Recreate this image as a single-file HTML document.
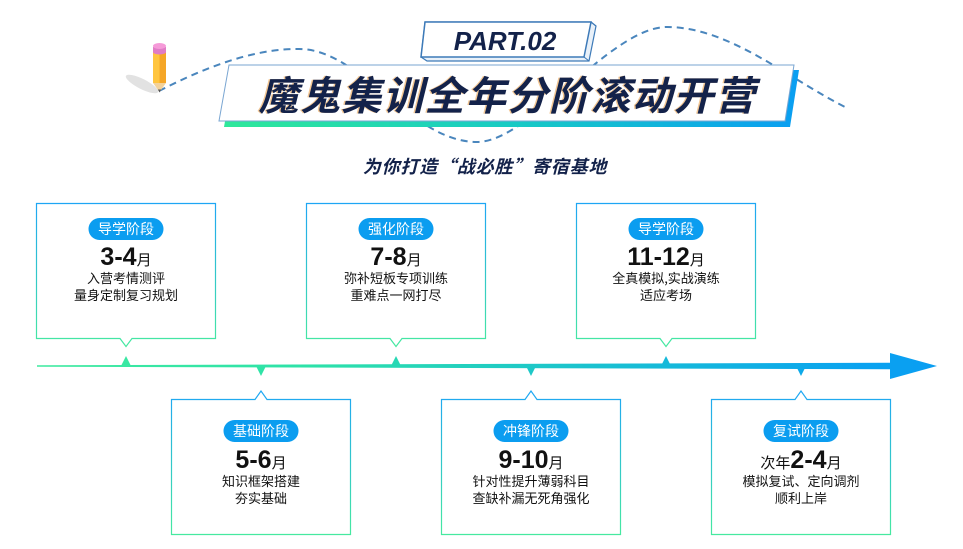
<!DOCTYPE html>
<html>
<head>
<meta charset="utf-8">
<style>
  html,body{margin:0;padding:0;background:#fff;}
  body{width:963px;height:549px;overflow:hidden;}
  svg{display:block;}
  .cjk{font-family:"Noto Sans CJK SC","WenQuanYi Zen Hei",sans-serif;}
</style>
</head>
<body>
<svg width="963" height="549" viewBox="0 0 963 549" xmlns="http://www.w3.org/2000/svg">
  <defs>
    <linearGradient id="boxg" x1="0" y1="0" x2="0" y2="1">
      <stop offset="0" stop-color="#1ea6f4"/>
      <stop offset="1" stop-color="#46e9a0"/>
    </linearGradient>
    <linearGradient id="lineg" gradientUnits="userSpaceOnUse" x1="37" y1="0" x2="937" y2="0">
      <stop offset="0" stop-color="#40eaa0"/>
      <stop offset="0.3" stop-color="#2de2a8"/>
      <stop offset="0.7" stop-color="#15b9da"/>
      <stop offset="0.92" stop-color="#0aa2f0"/>
      <stop offset="1" stop-color="#0a9ef2"/>
    </linearGradient>
    <linearGradient id="titleg" gradientUnits="userSpaceOnUse" x1="224" y1="0" x2="799" y2="0">
      <stop offset="0" stop-color="#2ee89a"/>
      <stop offset="0.5" stop-color="#18cbc4"/>
      <stop offset="1" stop-color="#0a9ef2"/>
    </linearGradient>
  </defs>

  <!-- pencil shadow -->
  <ellipse cx="142" cy="84" rx="18" ry="5" fill="#e2e2e2" transform="rotate(27 142 84)"/>
  <!-- dashed curve -->
  <path d="M159,91 C200,70 250,49 297,49 C360,47 410,142 477,142 C530,142 610,27 667,27 C730,27 790,80 847,108"
        fill="none" stroke="#4a86bd" stroke-width="2" stroke-dasharray="7 5"/>
  <!-- pencil -->
  <polygon points="153,83 166,83 159.5,92" fill="#f3d29a"/>
  <polygon points="157.8,89.5 161.2,89.5 159.5,92.5" fill="#555"/>
  <rect x="153" y="50" width="6.5" height="33" fill="#ffc53f"/>
  <rect x="159.5" y="50" width="6.5" height="33" fill="#f5a627"/>
  <rect x="153" y="47" width="13" height="5" fill="#e9e9ef"/>
  <path d="M153,47 V52 A6.5,2.5 0 0 0 166,52 V47 Z" fill="#e07cc6"/>
  <ellipse cx="159.5" cy="46" rx="6.5" ry="3" fill="#f59ad8"/>

  <!-- PART box (3D) -->
  <polygon points="425,22 591,22 596,26 589,61 427,61 421,57" fill="#e9f1f9" stroke="#3d7ab8" stroke-width="1.2"/>
  <polygon points="425,22 591,22 584,57 421,57" fill="#fff" stroke="#3d7ab8" stroke-width="1.5"/>
  <line x1="584" y1="57" x2="589" y2="61" stroke="#3d7ab8" stroke-width="1"/>
  <line x1="591" y1="22" x2="596" y2="26" stroke="#3d7ab8" stroke-width="1"/>
  <text x="505" y="50" text-anchor="middle" font-family="'Liberation Sans',sans-serif" font-weight="bold" font-style="italic" font-size="26" fill="#13224a">PART.02</text>

  <!-- title box -->
  <polygon points="234,70 799,70 790,127 224,127" fill="url(#titleg)"/>
  <polygon points="229,65 794,65 785,121 219,121" fill="#fff" stroke="#7aa6d2" stroke-width="1"/>
  <text x="506" y="110" text-anchor="middle" class="cjk" font-weight="bold" font-style="italic" font-size="40" letter-spacing="1.5" fill="#e8983c" opacity="0.55">魔鬼集训全年分阶滚动开营</text>
  <text x="507.5" y="110" text-anchor="middle" class="cjk" font-weight="bold" font-style="italic" font-size="40" letter-spacing="1.5" fill="#13224a">魔鬼集训全年分阶滚动开营</text>

  <!-- subtitle -->
  <text x="485" y="173" text-anchor="middle" class="cjk" font-weight="bold" font-style="italic" font-size="18" letter-spacing="0.8" fill="#13224a">为你打造“战必胜”寄宿基地</text>

  <!-- timeline -->
  <polygon points="37,365.2 890,362.8 890,369.2 37,366.8" fill="url(#lineg)"/>
  <polygon points="890,353 937,366 890,379" fill="url(#lineg)"/>
  <polygon points="121,366 131,366 126,356" fill="url(#lineg)"/>
  <polygon points="391,366 401,366 396,356" fill="url(#lineg)"/>
  <polygon points="661,366 671,366 666,356" fill="url(#lineg)"/>
  <polygon points="256,366 266,366 261,376" fill="url(#lineg)"/>
  <polygon points="526,366 536,366 531,376" fill="url(#lineg)"/>
  <polygon points="796,366 806,366 801,376" fill="url(#lineg)"/>

  <!-- top boxes -->
  <path d="M36.5,203.5 H215.5 V338.5 H132 L126,346.5 L120,338.5 H36.5 Z" fill="#fff" stroke="url(#boxg)" stroke-width="1.2"/>
  <path d="M306.5,203.5 H485.5 V338.5 H402 L396,346.5 L390,338.5 H306.5 Z" fill="#fff" stroke="url(#boxg)" stroke-width="1.2"/>
  <path d="M576.5,203.5 H755.5 V338.5 H672 L666,346.5 L660,338.5 H576.5 Z" fill="#fff" stroke="url(#boxg)" stroke-width="1.2"/>

  <!-- bottom boxes -->
  <path d="M171.5,399.5 H255 L261,391 L267,399.5 H350.5 V534.5 H171.5 Z" fill="#fff" stroke="url(#boxg)" stroke-width="1.2"/>
  <path d="M441.5,399.5 H525 L531,391 L537,399.5 H620.5 V534.5 H441.5 Z" fill="#fff" stroke="url(#boxg)" stroke-width="1.2"/>
  <path d="M711.5,399.5 H795 L801,391 L807,399.5 H890.5 V534.5 H711.5 Z" fill="#fff" stroke="url(#boxg)" stroke-width="1.2"/>

  <!-- Box 1 -->
  <rect x="88.5" y="218" width="75" height="22" rx="11" fill="#0b9df0"/>
  <text x="126" y="234" text-anchor="middle" class="cjk" font-size="14" fill="#fff">导学阶段</text>
  <text x="126" y="265" text-anchor="middle"><tspan font-family="'Liberation Sans',sans-serif" font-weight="bold" font-size="25" fill="#111">3-4</tspan><tspan class="cjk" font-size="15" fill="#111">月</tspan></text>
  <text x="126" y="283" text-anchor="middle" class="cjk" font-size="13" fill="#111">入营考情测评</text>
  <text x="126" y="300" text-anchor="middle" class="cjk" font-size="13" fill="#111">量身定制复习规划</text>

  <!-- Box 2 -->
  <rect x="358.5" y="218" width="75" height="22" rx="11" fill="#0b9df0"/>
  <text x="396" y="234" text-anchor="middle" class="cjk" font-size="14" fill="#fff">强化阶段</text>
  <text x="396" y="265" text-anchor="middle"><tspan font-family="'Liberation Sans',sans-serif" font-weight="bold" font-size="25" fill="#111">7-8</tspan><tspan class="cjk" font-size="15" fill="#111">月</tspan></text>
  <text x="396" y="283" text-anchor="middle" class="cjk" font-size="13" fill="#111">弥补短板专项训练</text>
  <text x="396" y="300" text-anchor="middle" class="cjk" font-size="13" fill="#111">重难点一网打尽</text>

  <!-- Box 3 -->
  <rect x="628.5" y="218" width="75" height="22" rx="11" fill="#0b9df0"/>
  <text x="666" y="234" text-anchor="middle" class="cjk" font-size="14" fill="#fff">导学阶段</text>
  <text x="666" y="265" text-anchor="middle"><tspan font-family="'Liberation Sans',sans-serif" font-weight="bold" font-size="25" fill="#111">11-12</tspan><tspan class="cjk" font-size="15" fill="#111">月</tspan></text>
  <text x="666" y="283" text-anchor="middle" class="cjk" font-size="13" fill="#111">全真模拟,实战演练</text>
  <text x="666" y="300" text-anchor="middle" class="cjk" font-size="13" fill="#111">适应考场</text>

  <!-- Box 4 -->
  <rect x="223.5" y="420" width="75" height="22" rx="11" fill="#0b9df0"/>
  <text x="261" y="436" text-anchor="middle" class="cjk" font-size="14" fill="#fff">基础阶段</text>
  <text x="261" y="468" text-anchor="middle"><tspan font-family="'Liberation Sans',sans-serif" font-weight="bold" font-size="25" fill="#111">5-6</tspan><tspan class="cjk" font-size="15" fill="#111">月</tspan></text>
  <text x="261" y="486" text-anchor="middle" class="cjk" font-size="13" fill="#111">知识框架搭建</text>
  <text x="261" y="503" text-anchor="middle" class="cjk" font-size="13" fill="#111">夯实基础</text>

  <!-- Box 5 -->
  <rect x="493.5" y="420" width="75" height="22" rx="11" fill="#0b9df0"/>
  <text x="531" y="436" text-anchor="middle" class="cjk" font-size="14" fill="#fff">冲锋阶段</text>
  <text x="531" y="468" text-anchor="middle"><tspan font-family="'Liberation Sans',sans-serif" font-weight="bold" font-size="25" fill="#111">9-10</tspan><tspan class="cjk" font-size="15" fill="#111">月</tspan></text>
  <text x="531" y="486" text-anchor="middle" class="cjk" font-size="13" fill="#111">针对性提升薄弱科目</text>
  <text x="531" y="503" text-anchor="middle" class="cjk" font-size="13" fill="#111">查缺补漏无死角强化</text>

  <!-- Box 6 -->
  <rect x="763.5" y="420" width="75" height="22" rx="11" fill="#0b9df0"/>
  <text x="801" y="436" text-anchor="middle" class="cjk" font-size="14" fill="#fff">复试阶段</text>
  <text x="801" y="468" text-anchor="middle"><tspan class="cjk" font-size="15" fill="#111">次年</tspan><tspan font-family="'Liberation Sans',sans-serif" font-weight="bold" font-size="25" fill="#111">2-4</tspan><tspan class="cjk" font-size="15" fill="#111">月</tspan></text>
  <text x="801" y="486" text-anchor="middle" class="cjk" font-size="13" fill="#111">模拟复试、定向调剂</text>
  <text x="801" y="503" text-anchor="middle" class="cjk" font-size="13" fill="#111">顺利上岸</text>
</svg>
</body>
</html>
